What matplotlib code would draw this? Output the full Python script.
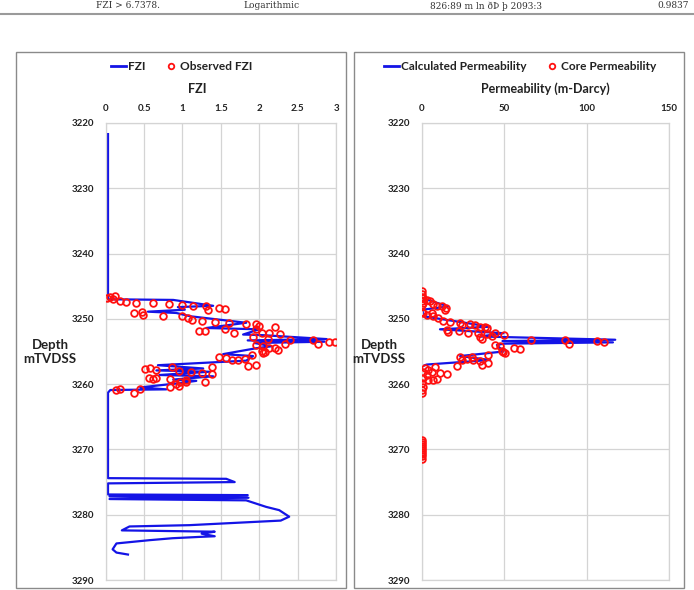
import numpy as np
import matplotlib.pyplot as plt
from matplotlib.lines import Line2D
from matplotlib.patches import Rectangle

plt.rcParams['font.family'] = ['Lato', 'DejaVu Sans']

# FZI profile (calculated), depth in m TVDSS
fzi_depth = [3221.7, 3247.0, 3247.1, 3248.0, 3248.2, 3248.6, 3248.9, 3249.1, 3249.6,
             3250.6, 3251.4, 3251.6, 3252.4, 3252.5, 3253.1, 3253.3, 3253.5, 3253.7,
             3254.2, 3254.5, 3255.4, 3255.7, 3256.4, 3257.1, 3257.6, 3257.9, 3258.1,
             3258.6, 3258.8, 3259.3, 3259.5, 3259.9, 3260.5, 3260.8, 3260.9, 3261.3,
             3274.4, 3274.5, 3275.0, 3275.2, 3276.9, 3277.0, 3277.2, 3277.4, 3277.6,
             3277.8, 3278.8, 3279.3, 3280.3, 3280.9, 3281.6, 3281.8, 3282.4, 3282.6,
             3282.9, 3283.3, 3283.4, 3283.6, 3283.9, 3284.4, 3285.3, 3285.8, 3286.1]
fzi_calc = [0.03, 0.03, 0.88, 1.40, 0.94, 1.03, 0.55, 0.92, 1.10,
            1.83, 1.31, 2.00, 1.79, 2.05, 2.88, 1.85, 2.85, 1.94,
            2.16, 1.96, 1.53, 1.92, 1.83, 0.68, 1.27, 0.66, 1.35,
            0.70, 1.40, 0.88, 1.18, 0.92, 0.45, 0.79, 0.06, 0.03,
            0.03, 1.57, 1.68, 0.03, 0.03, 1.85, 0.05, 1.86, 0.05,
            1.83, 2.09, 2.26, 2.39, 2.28, 1.09, 0.31, 0.21, 1.42,
            1.25, 1.42, 1.22, 0.87, 0.57, 0.14, 0.09, 0.14, 0.29]

# observed FZI (core)
obs_fzi = [0.02, 0.06, 0.12, 0.09, 0.19, 0.27, 0.40, 0.61, 0.82, 1.00, 1.14, 1.31, 1.48,
           1.55, 1.33, 0.37, 0.47, 0.48, 0.74, 0.99, 1.07, 1.12, 1.26, 1.42, 1.61, 1.83,
           1.96, 2.00, 1.22, 1.30, 1.55, 1.67, 1.96, 2.03, 2.21, 2.13, 2.27, 2.11, 1.92,
           2.40, 2.33, 2.70, 2.76, 2.91, 2.99, 1.96, 2.05, 2.13, 2.21, 2.24, 2.03, 2.07,
           2.05, 1.48, 1.57, 1.65, 1.72, 1.81, 1.90, 1.96, 1.85, 1.39, 0.86, 0.96, 0.51,
           0.58, 0.66, 1.11, 1.25, 1.39, 0.57, 0.62, 0.66, 0.84, 0.97, 1.05, 0.92, 0.96,
           1.29, 0.14, 0.19, 0.37, 0.45, 0.84, 1.05]
obs_depth = [3246.85, 3246.7, 3246.5, 3247.0, 3247.2, 3247.4, 3247.5, 3247.6, 3247.8, 3247.9,
             3248.0, 3248.1, 3248.4, 3248.5, 3248.7, 3249.1, 3249.0, 3249.4, 3249.5, 3249.6,
             3249.9, 3250.1, 3250.3, 3250.5, 3250.6, 3250.8, 3250.8, 3251.1, 3251.8, 3251.9,
             3251.6, 3252.1, 3251.6, 3252.2, 3251.3, 3252.2, 3252.3, 3253.1, 3252.8, 3253.2,
             3253.9, 3253.2, 3253.8, 3253.5, 3253.6, 3254.0, 3254.2, 3254.5, 3254.5, 3254.7,
             3254.9, 3255.1, 3255.3, 3255.8, 3256.0, 3256.3, 3256.3, 3256.2, 3255.5, 3257.0,
             3257.2, 3257.3, 3257.4, 3258.0, 3257.7, 3257.6, 3257.8, 3258.1, 3258.3, 3258.4,
             3259.1, 3259.2, 3259.0, 3259.2, 3259.6, 3259.7, 3260.0, 3260.3, 3259.6, 3260.9,
             3260.7, 3261.3, 3260.7, 3260.5, 3259.4]

# calculated permeability (mD)
perm_depth = [3221.7, 3246.8, 3248.1, 3248.6, 3249.6, 3251.2, 3251.6, 3252.2, 3252.7,
              3253.2, 3253.4, 3253.6, 3253.8, 3254.0, 3255.0, 3255.7, 3256.3, 3257.0,
              3257.3, 3286.1]
perm_calc = [0.0, 0.0, 16.2, 0.5, 1.0, 41.5, 11.1, 49.6, 35.4,
             117.4, 49.0, 116.0, 49.6, 45.6, 49.6, 23.3, 41.5, 3.0,
             0.0, 0.0]

# core permeability (mD)
core_perm = [0.2, 0.0, 0.1, 0.6, 0.2, 1.0, 0.3, 3.0, 5.1, 7.1, 9.1, 12.2, 14.8, 14.2, 0.3,
             1.0, 3.0, 6.1, 7.1, 10.1, 12.8, 17.2, 23.3, 24.3, 29.0, 32.4, 35.4, 38.5, 39.5,
             15.2, 16.2, 22.9, 28.3, 34.4, 39.5, 44.5, 50.0, 35.4, 36.4, 42.5, 66.2, 87.0,
             89.1, 106.3, 110.7, 44.5, 47.6, 55.7, 59.7, 49.6, 50.6, 48.6, 40.5, 23.3, 24.3,
             27.3, 30.4, 31.4, 35.4, 36.4, 40.5, 21.3, 2.0, 4.1, 8.1, 1.0, 3.0, 6.1, 11.1,
             15.2, 1.0, 4.1, 7.1, 9.5, 0.0, 1.0, 0.3, 0.0,
             0.0, 0.0, 0.0, 0.0, 0.0, 0.0, 0.0, 0.0, 0.0, 0.0]
core_depth = [3245.8, 3246.2, 3246.6, 3246.8, 3247.2, 3247.5, 3247.9, 3247.1, 3247.3, 3247.7,
              3248.0, 3248.1, 3248.4, 3248.6, 3248.9, 3249.1, 3249.4, 3249.1, 3249.6, 3249.9,
              3250.4, 3250.5, 3250.7, 3250.9, 3250.8, 3250.9, 3251.2, 3251.3, 3251.4, 3251.7,
              3252.0, 3251.8, 3252.2, 3252.1, 3252.3, 3252.2, 3252.4, 3252.8, 3253.1, 3252.6,
              3253.2, 3253.3, 3253.8, 3253.4, 3253.6, 3254.0, 3254.1, 3254.5, 3254.6, 3255.0,
              3255.3, 3254.9, 3255.5, 3255.9, 3256.3, 3256.2, 3255.9, 3256.3, 3256.5, 3257.0,
              3256.8, 3257.2, 3257.6, 3257.8, 3257.4, 3258.1, 3258.6, 3258.2, 3258.3, 3258.4,
              3259.1, 3259.3, 3259.3, 3259.2, 3259.9, 3260.4, 3260.9, 3261.4,
              3268.6, 3268.9, 3269.2, 3269.5, 3269.8, 3270.1, 3270.4, 3270.7, 3271.0, 3271.4]

depth_ticks = [3220, 3230, 3240, 3250, 3260, 3270, 3280, 3290]
fzi_ticks = [0, 0.5, 1, 1.5, 2, 2.5, 3]
fzi_labels = ['0', '0.5', '1', '1.5', '2', '2.5', '3']
perm_ticks = [0, 50, 100, 150]

blue = '#1414E6'
red = '#FF1010'
W, H = 694, 590

fig = plt.figure(figsize=(6.94, 5.90), dpi=100)

# header row from the table above
hdr = dict(family='DejaVu Serif', fontsize=6.5, va='center', color='#333333')
fig.text(96 / W, 1 - 6 / H, 'FZI > 6.7378.', **hdr)
fig.text(272 / W, 1 - 6 / H, 'Logarithmic', ha='center', **hdr)
fig.text(486 / W, 1 - 6 / H, '826:89 m ln ðÞ þ 2093:3', ha='center', **hdr)
fig.text(689 / W, 1 - 6 / H, '0.9837', ha='right', **hdr)
fig.add_artist(Line2D([0, 1], [1 - 13.5 / H, 1 - 13.5 / H], color='#9a9a9a', lw=1.5))

# panel frames
for x0, x1 in [(16, 346), (354, 684)]:
    fig.add_artist(Rectangle((x0 / W, 1 - 588 / H), (x1 - x0) / W, (588 - 52) / H,
                             fill=False, ec='#8a8a8a', lw=1.0))


def style(ax, xlim, xticks, xlabels):
    ax.set_ylim(3290, 3220)
    ax.set_xlim(*xlim)
    ax.set_yticks(depth_ticks)
    ax.set_xticks(xticks)
    ax.set_xticklabels(xlabels)
    ax.xaxis.tick_top()
    ax.tick_params(length=0, labelsize=7, colors='#222222')
    ax.tick_params(axis='x', pad=7)
    ax.tick_params(axis='y', pad=8)
    for lab in ax.get_xticklabels() + ax.get_yticklabels():
        lab.set_fontweight('bold')
    ax.grid(True, color='#d4d4d4', lw=0.9)
    ax.set_axisbelow(True)
    for s in ax.spines.values():
        s.set_color('#d4d4d4')
        s.set_linewidth(0.9)


ax1 = fig.add_axes([105.7 / W, 1 - 580 / H, (336 - 105.7) / W, 457 / H])
ax1.plot(fzi_calc, fzi_depth, color=blue, lw=1.6, zorder=2)
ax1.plot(obs_fzi, obs_depth, 'o', mfc='none', mec=red, mew=1.3, ms=4.8, zorder=3)
style(ax1, (0, 3), fzi_ticks, fzi_labels)

ax2 = fig.add_axes([421.7 / W, 1 - 580 / H, (669 - 421.7) / W, 457 / H])
ax2.plot(perm_calc, perm_depth, color=blue, lw=1.6, zorder=2)
ax2.plot(core_perm, core_depth, 'o', mfc='none', mec=red, mew=1.3, ms=4.8, zorder=3)
style(ax2, (0, 150), perm_ticks, [str(t) for t in perm_ticks])

# axis titles
fig.text(197 / W, 1 - 89 / H, 'FZI', fontsize=9, fontweight='bold', ha='center', va='center', color='#222222')
fig.text(545 / W, 1 - 89 / H, 'Permeability (m-Darcy)', fontsize=9, fontweight='bold',
         ha='center', va='center', color='#222222')
for xc in (50, 379):
    fig.text(xc / W, 1 - 352 / H, 'Depth\nmTVDSS', fontsize=9.5, fontweight='bold', ha='center',
             va='center', color='#222222', linespacing=1.15)

# legends
def legend(labels, xc):
    handles = [Line2D([], [], color=blue, lw=2),
               Line2D([], [], ls='none', marker='o', mfc='none', mec=red, mew=1.3, ms=4)]
    leg = fig.legend(handles, labels, loc='center', bbox_to_anchor=(xc / W, 1 - 67 / H), ncol=2,
                     frameon=False, handlelength=1.25, handletextpad=0.15, columnspacing=1.5,
                     prop={'weight': 'bold', 'size': 8.6})
    for t in leg.get_texts():
        t.set_color('#222222')


legend(['FZI', 'Observed FZI'], 182)
legend(['Calculated Permeability', 'Core Permeability'], 520)

fig.savefig('out.png', dpi=100)
